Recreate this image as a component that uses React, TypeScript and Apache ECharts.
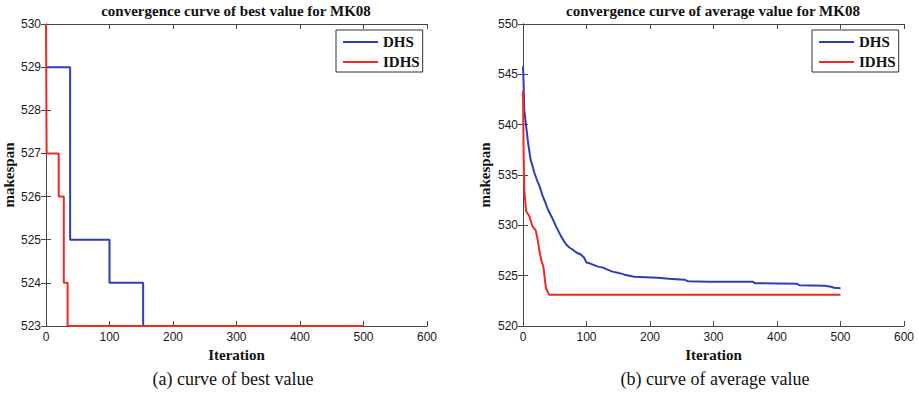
import React, { useEffect, useRef } from "react";
import * as echarts from "echarts";

// ---- data ----
const seriesNames = ["DHS", "IDHS"];

// (a) best value (step curves)
const bestIterDHS = [0, 38, 100, 153, 500];
const bestValDHS = [529, 525, 524, 523, 523];
const bestIterIDHS = [0, 1, 20, 28, 34, 500];
const bestValIDHS = [530, 527, 526, 524, 523, 523];

// (b) average value
const avgIterDHS = [0, 1, 2, 5, 8, 12, 15, 18, 22, 26, 31, 35, 39, 43, 47, 52, 56, 60, 64, 68, 73, 78, 84, 91, 96, 100, 106, 118, 126, 133, 141, 149, 160, 175, 212, 230, 254, 260, 291, 362, 365, 431, 435, 475, 485, 490, 500];
const avgValDHS = [545.8, 544.0, 541.5, 539.8, 538.2, 536.5, 535.9, 535.2, 534.5, 533.9, 532.9, 532.3, 531.6, 531.1, 530.6, 529.9, 529.4, 528.9, 528.5, 528.1, 527.8, 527.6, 527.3, 527.1, 526.8, 526.3, 526.2, 525.9, 525.8, 525.6, 525.4, 525.3, 525.1, 524.9, 524.8, 524.7, 524.6, 524.45, 524.4, 524.4, 524.25, 524.2, 524.05, 524.0, 523.9, 523.8, 523.75];
const avgIterIDHS = [0, 1, 2, 5, 10, 15, 20, 23, 26, 29, 32, 34, 36, 41, 500];
const avgValIDHS = [543.4, 537.0, 533.5, 531.4, 530.9, 529.9, 529.5, 528.6, 527.4, 526.5, 525.9, 524.9, 523.8, 523.1, 523.1];

const xTicks = { min: 0, max: 600, interval: 100 };
const bestY = { min: 523, max: 530, interval: 1 };
const avgY = { min: 520, max: 550, interval: 5 };

const titles = ["convergence curve of best value for MK08", "convergence curve of average value for MK08"];
const captions = ["(a) curve of best value", "(b) curve of average value"];

const BLUE = "#2b3fb8";
const RED = "#ee2a25";
const AXIS = "#444";
const SERIF = "'Liberation Serif', 'Times New Roman', serif";
const SANS = "'Liberation Sans', Arial, sans-serif";

const zip = (xs: number[], ys: number[]) => xs.map((x, i) => [x, ys[i]]);

export default function App() {
  const ref = useRef<HTMLDivElement>(null);
  useEffect(() => {
    if (!ref.current) return;
    const chart = echarts.init(ref.current, undefined, { renderer: "svg" });

    const grids = [
      { left: 46, top: 24, width: 381, height: 302 },
      { left: 523, top: 24, width: 381, height: 302 },
    ];

    const axisLine = { show: true, lineStyle: { color: AXIS, width: 1 } };
    const axisTick = { show: true, inside: true, length: 5, lineStyle: { color: AXIS } };
    const axisLabel = { color: "#1a1a1a", fontFamily: SANS, fontSize: 12, margin: 5 };
    const nameStyle = { fontFamily: SERIF, fontWeight: "bold" as const, fontSize: 15, color: "#111" };

    const xAxes: any[] = [];
    const yAxes: any[] = [];
    [0, 1].forEach((g) => {
      xAxes.push({
        type: "value", gridIndex: g, position: "bottom", ...xTicks,
        axisLine, axisTick, axisLabel, splitLine: { show: false },
        name: "Iteration", nameLocation: "middle", nameGap: 20, nameTextStyle: nameStyle,
      });
      xAxes.push({
        type: "value", gridIndex: g, position: "top", ...xTicks,
        axisLine, axisTick, axisLabel: { show: false }, splitLine: { show: false },
      });
      const yr = g === 0 ? bestY : avgY;
      yAxes.push({
        type: "value", gridIndex: g, position: "left", ...yr,
        axisLine, axisTick, axisLabel, splitLine: { show: false },
        name: "makespan", nameLocation: "middle", nameGap: g === 0 ? 30 : 31, nameTextStyle: nameStyle,
      });
      yAxes.push({
        type: "value", gridIndex: g, position: "right", ...yr,
        axisLine, axisTick, axisLabel: { show: false }, splitLine: { show: false },
      });
    });

    const lineSeries = (name: string, data: number[][], g: number, color: string, step?: any) => ({
      type: "line", name, data, xAxisIndex: g * 2, yAxisIndex: g * 2,
      step: step || false, showSymbol: false, symbol: "none", color,
      lineStyle: { color, width: 2 }, clip: true, z: name === "IDHS" ? 3 : 2,
    });

    const legendBase = {
      orient: "vertical", top: 30, icon: "rect", itemWidth: 35, itemHeight: 2,
      itemGap: 2, itemTextGap: 4, padding: [3, 3, 1, 7],
      borderColor: "#333", borderWidth: 1, backgroundColor: "#fff",
      textStyle: { fontFamily: SERIF, fontWeight: "bold", fontSize: 15, color: "#111", lineHeight: 18 },
      data: seriesNames, selectedMode: false,
    };

    const graphics: any[] = [];
    const centers = [236, 713];
    [0, 1].forEach((g) => {
      graphics.push({
        type: "text", x: centers[g], y: 11,
        style: { text: titles[g], font: `bold 15px ${SERIF}`, fill: "#111", align: "center", verticalAlign: "middle" },
      });
      graphics.push({
        type: "text", x: g === 0 ? 233 : 715, y: 379,
        style: { text: captions[g], font: `18px ${SERIF}`, fill: "#111", align: "center", verticalAlign: "middle" },
      });
    });

    chart.setOption({
      animation: false,
      backgroundColor: "#fff",
      grid: grids,
      xAxis: xAxes,
      yAxis: yAxes,
      legend: [
        { ...legendBase, left: 336 },
        { ...legendBase, left: 812 },
      ],
      series: [
        lineSeries("DHS", zip(bestIterDHS, bestValDHS), 0, BLUE, "end"),
        lineSeries("IDHS", zip(bestIterIDHS, bestValIDHS), 0, RED, "end"),
        lineSeries("DHS", zip(avgIterDHS, avgValDHS), 1, BLUE),
        lineSeries("IDHS", zip(avgIterIDHS, avgValIDHS), 1, RED),
      ],
      graphic: graphics,
    });
    return () => chart.dispose();
  }, []);
  return <div ref={ref} style={{ position: "fixed", left: 0, top: 0, width: 918, height: 394 }} />;
}
